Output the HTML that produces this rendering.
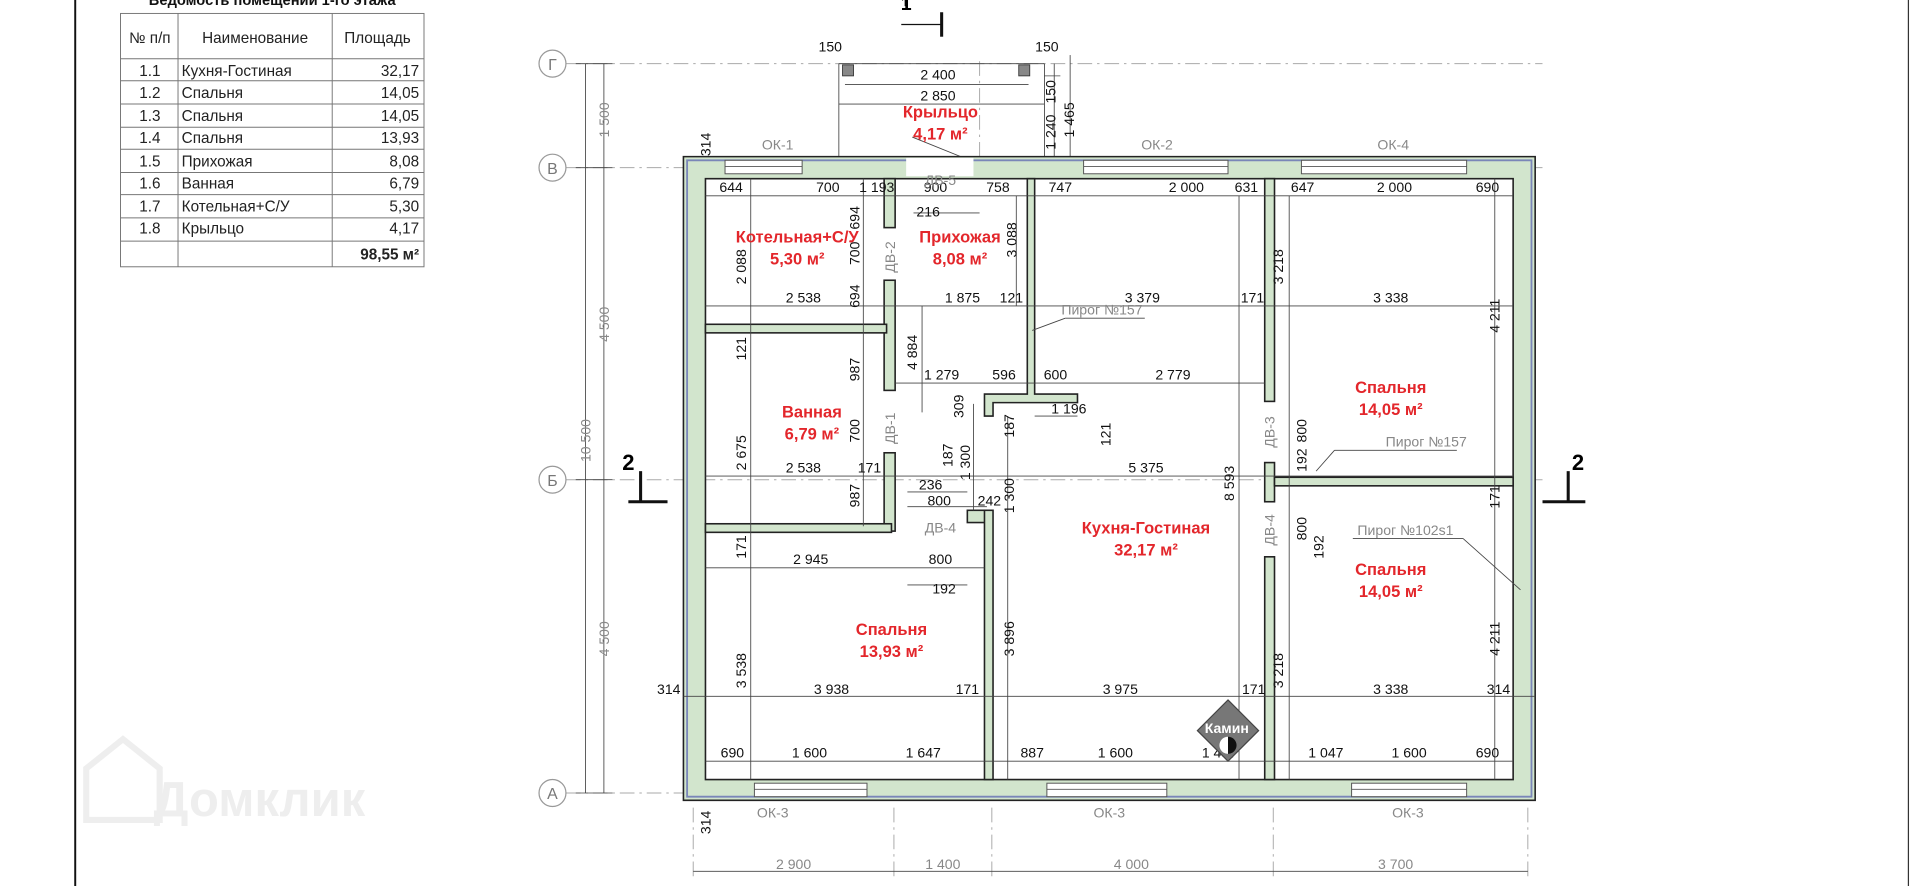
<!DOCTYPE html>
<html><head><meta charset="utf-8"><style>
html,body{margin:0;padding:0;background:#fff;width:1920px;height:886px;overflow:hidden}
svg{display:block}
text{font-family:"Liberation Sans","DejaVu Sans",sans-serif}
.d{font-size:11.5px;fill:#111;text-anchor:middle}
.g{font-size:11.5px;fill:#888;text-anchor:middle}
.r{font-size:13.5px;fill:#e3262b;font-weight:bold;text-anchor:middle}
.t{font-size:12.5px;fill:#222}
.w{fill:#d2e5cd;stroke:#222;stroke-width:1.3}
.dl{stroke:#444;stroke-width:0.7;fill:none}
.ax{stroke:#aaa;stroke-width:0.8;stroke-dasharray:12 4 2 4;fill:none}
.win{fill:#fff;stroke:#555;stroke-width:0.8}
</style></head><body>
<svg width="1920" height="886" viewBox="0 0 1568 724" xmlns="http://www.w3.org/2000/svg">
<rect width="1568" height="724" fill="#fff"/>
<line x1="61" y1="0" x2="61" y2="724" stroke="#111" stroke-width="1.6"/>
<line x1="1559" y1="0" x2="1559" y2="724" stroke="#333" stroke-width="1"/>
<g fill="none" stroke="#eee" stroke-width="5">
<path d="M70 670 V628 L100 604 L130 628 V670 Z"/>
</g>
<text x="125" y="667" font-size="40" fill="#eeeeee" font-weight="bold">Домклик</text>
<text x="222" y="4" font-size="12" font-weight="bold" text-anchor="middle" fill="#111">Ведомость помещений 1-го этажа</text>
<g stroke="#777" stroke-width="0.8" fill="none">
<rect x="98" y="11" width="248" height="207"/>
<line x1="145" y1="11" x2="145" y2="218"/><line x1="271" y1="11" x2="271" y2="218"/>
<line x1="98" y1="48" x2="346" y2="48"/>
<line x1="98" y1="66" x2="346" y2="66"/><line x1="98" y1="85" x2="346" y2="85"/>
<line x1="98" y1="104" x2="346" y2="104"/><line x1="98" y1="122" x2="346" y2="122"/>
<line x1="98" y1="141" x2="346" y2="141"/><line x1="98" y1="159" x2="346" y2="159"/>
<line x1="98" y1="178" x2="346" y2="178"/><line x1="98" y1="197" x2="346" y2="197"/>
</g>
<g class="t">
<text x="122" y="35" text-anchor="middle">№ п/п</text><text x="208" y="35" text-anchor="middle">Наименование</text><text x="308" y="35" text-anchor="middle">Площадь</text>
<text x="122" y="62" text-anchor="middle">1.1</text><text x="148" y="62">Кухня-Гостиная</text><text x="342" y="62" text-anchor="end">32,17</text>
<text x="122" y="80" text-anchor="middle">1.2</text><text x="148" y="80">Спальня</text><text x="342" y="80" text-anchor="end">14,05</text>
<text x="122" y="99" text-anchor="middle">1.3</text><text x="148" y="99">Спальня</text><text x="342" y="99" text-anchor="end">14,05</text>
<text x="122" y="117" text-anchor="middle">1.4</text><text x="148" y="117">Спальня</text><text x="342" y="117" text-anchor="end">13,93</text>
<text x="122" y="136" text-anchor="middle">1.5</text><text x="148" y="136">Прихожая</text><text x="342" y="136" text-anchor="end">8,08</text>
<text x="122" y="154" text-anchor="middle">1.6</text><text x="148" y="154">Ванная</text><text x="342" y="154" text-anchor="end">6,79</text>
<text x="122" y="173" text-anchor="middle">1.7</text><text x="148" y="173">Котельная+С/У</text><text x="342" y="173" text-anchor="end">5,30</text>
<text x="122" y="191" text-anchor="middle">1.8</text><text x="148" y="191">Крыльцо</text><text x="342" y="191" text-anchor="end">4,17</text>
<text x="342" y="212" text-anchor="end" font-weight="bold">98,55 м²</text>
</g>
<g class="ax">
<line x1="462" y1="52" x2="1260" y2="52"/><line x1="462" y1="137" x2="1260" y2="137"/>
<line x1="462" y1="392" x2="1260" y2="392"/><line x1="462" y1="648" x2="560" y2="648"/>
<line x1="566" y1="660" x2="566" y2="720"/><line x1="730" y1="660" x2="730" y2="720"/>
<line x1="810" y1="660" x2="810" y2="720"/><line x1="1040" y1="660" x2="1040" y2="720"/>
<line x1="1248" y1="660" x2="1248" y2="720"/><line x1="800" y1="50" x2="800" y2="130"/>
</g>
<g fill="#fff" stroke="#999" stroke-width="1">
<circle cx="451" cy="52" r="11"/><circle cx="451" cy="137" r="11"/><circle cx="451" cy="392" r="11"/><circle cx="451" cy="648" r="11"/>
</g>
<g font-size="13" fill="#777" text-anchor="middle"><text x="451" y="57">Г</text><text x="451" y="142">В</text><text x="451" y="397">Б</text><text x="451" y="653">А</text></g>
<g class="dl"><line x1="478" y1="52" x2="478" y2="648"/><line x1="493" y1="52" x2="493" y2="648"/>
<line x1="470" y1="52" x2="500" y2="52"/><line x1="470" y1="137" x2="500" y2="137"/><line x1="470" y1="392" x2="500" y2="392"/><line x1="470" y1="648" x2="500" y2="648"/></g>
<g class="g"><text transform="translate(497,98) rotate(-90)">1 500</text><text transform="translate(497,265) rotate(-90)">4 500</text><text transform="translate(482,360) rotate(-90)">10 500</text><text transform="translate(497,522) rotate(-90)">4 500</text></g>
<line class="dl" x1="566" y1="712" x2="1248" y2="712"/>
<g class="g"><text x="648" y="710">2 900</text><text x="770" y="710">1 400</text><text x="924" y="710">4 000</text><text x="1140" y="710">3 700</text></g>
<g stroke="#111" stroke-width="2.5" fill="none">
<line x1="769" y1="10" x2="769" y2="30"/><line x1="740" y1="0" x2="740" y2="5"/>
<line x1="523" y1="385" x2="523" y2="410"/><line x1="513" y1="410" x2="545" y2="410"/>
<line x1="1281" y1="385" x2="1281" y2="410"/><line x1="1260" y1="410" x2="1295" y2="410"/>
</g>
<line x1="736" y1="20" x2="769" y2="20" stroke="#111" stroke-width="1"/>
<text x="740" y="8" font-size="16" font-weight="bold" text-anchor="middle">1</text>
<text x="513" y="384" font-size="18" font-weight="bold" text-anchor="middle">2</text>
<text x="1289" y="384" font-size="18" font-weight="bold" text-anchor="middle">2</text>
<g class="dl"><line x1="685" y1="52" x2="685" y2="130"/><line x1="853" y1="52" x2="853" y2="130"/>
<line x1="685" y1="52" x2="853" y2="52"/><line x1="690" y1="69" x2="840" y2="69"/><line x1="685" y1="85" x2="853" y2="85"/>
<line x1="861" y1="52" x2="861" y2="130"/><line x1="874" y1="45" x2="874" y2="130"/><line x1="853" y1="62" x2="866" y2="62"/>
<line x1="797" y1="133" x2="745" y2="112"/></g>
<g fill="#888" stroke="#333" stroke-width="0.7"><rect x="688" y="53" width="9" height="9"/><rect x="832" y="53" width="9" height="9"/></g>
<g class="d"><text x="678" y="42">150</text><text x="766" y="65">2 400</text><text x="855" y="42">150</text><text x="766" y="82">2 850</text>
<text transform="translate(862,75) rotate(-90)">150</text><text transform="translate(862,108) rotate(-90)">1 240</text><text transform="translate(877,98) rotate(-90)">1 465</text>
<text transform="translate(580,118) rotate(-90)">314</text><text transform="translate(580,672) rotate(-90)">314</text></g>
<text class="r" x="768" y="96">Крыльцо</text><text class="r" x="768" y="114">4,17 м²</text>
<path d="M558 128 H1254 V654 H558 Z M576 146 V637 H1236 V146 Z" fill="#d2e5cd" fill-rule="evenodd" stroke="#222" stroke-width="1.3"/>
<path d="M561 131 H1251 V651 H561 Z" fill="none" stroke="#7a86b8" stroke-width="1.5"/>
<g class="win">
<rect x="592" y="131" width="63" height="11"/><rect x="740" y="129" width="55" height="15" stroke="none"/>
<rect x="885" y="131" width="118" height="11"/><rect x="1063" y="131" width="135" height="11"/>
<rect x="616" y="640" width="92" height="11"/><rect x="855" y="640" width="98" height="11"/><rect x="1104" y="640" width="94" height="11"/>
</g>
<g stroke="#555" stroke-width="0.7"><line x1="592" y1="136" x2="655" y2="136"/><line x1="885" y1="136" x2="1003" y2="136"/><line x1="1063" y1="136" x2="1198" y2="136"/>
<line x1="616" y1="645" x2="708" y2="645"/><line x1="855" y1="645" x2="953" y2="645"/><line x1="1104" y1="645" x2="1198" y2="645"/></g>
<g class="w">
<rect x="722" y="146" width="9" height="40"/>
<rect x="722" y="229" width="9" height="90"/>
<rect x="722" y="370" width="9" height="64"/>
<rect x="576" y="265" width="148" height="7"/>
<rect x="576" y="428" width="152" height="7"/>
<rect x="790" y="417" width="18" height="10"/>
<rect x="804" y="417" width="7" height="220"/>
<path d="M839 146 H845 V322 H880 V329 H811 V340 H804 V322 H839 Z"/>
<rect x="1033" y="146" width="8" height="182"/>
<rect x="1033" y="378" width="8" height="32"/>
<rect x="1041" y="390" width="195" height="7"/>
<rect x="1033" y="455" width="8" height="182"/>
</g>
<g class="dl">
<line x1="576" y1="160" x2="1236" y2="160"/><line x1="576" y1="250" x2="1236" y2="250"/>
<line x1="731" y1="313" x2="1033" y2="313"/><line x1="576" y1="389" x2="1236" y2="389"/>
<line x1="576" y1="464" x2="804" y2="464"/><line x1="558" y1="569" x2="1254" y2="569"/>
<line x1="576" y1="622" x2="1236" y2="622"/><line x1="845" y1="340" x2="880" y2="340"/>
<line x1="613" y1="146" x2="613" y2="637"/><line x1="705" y1="146" x2="705" y2="430"/>
<line x1="753" y1="250" x2="753" y2="337"/><line x1="830" y1="160" x2="830" y2="250"/>
<line x1="1012" y1="160" x2="1012" y2="637"/><line x1="1053" y1="160" x2="1053" y2="637"/>
<line x1="1221" y1="146" x2="1221" y2="637"/><line x1="823" y1="340" x2="823" y2="637"/>
<line x1="795" y1="330" x2="795" y2="417"/><line x1="741" y1="402" x2="790" y2="402"/><line x1="741" y1="414" x2="806" y2="414"/>
<line x1="741" y1="478" x2="790" y2="478"/>
<line x1="746" y1="174" x2="800" y2="174"/>
<line x1="843" y1="270" x2="870" y2="260"/><line x1="870" y1="260" x2="935" y2="260"/>
<line x1="1090" y1="368" x2="1190" y2="368"/><line x1="1090" y1="368" x2="1075" y2="385"/>
<line x1="1105" y1="440" x2="1195" y2="440"/><line x1="1195" y1="440" x2="1242" y2="482"/>
</g>
<g class="d">
<text x="597" y="157">644</text><text x="676" y="157">700</text><text x="716" y="157">1 193</text><text x="764" y="157">900</text><text x="815" y="157">758</text><text x="866" y="157">747</text><text x="969" y="157">2 000</text><text x="1018" y="157">631</text><text x="1064" y="157">647</text><text x="1139" y="157">2 000</text><text x="1215" y="157">690</text>
<text x="758" y="177">216</text>
<text x="656" y="247">2 538</text><text x="786" y="247">1 875</text><text x="826" y="247">121</text><text x="933" y="247">3 379</text><text x="1023" y="247">171</text><text x="1136" y="247">3 338</text>
<text x="769" y="310">1 279</text><text x="820" y="310">596</text><text x="862" y="310">600</text><text x="958" y="310">2 779</text>
<text x="873" y="338">1 196</text>
<text x="656" y="386">2 538</text><text x="710" y="386">171</text><text x="936" y="386">5 375</text>
<text x="760" y="400">236</text><text x="767" y="413">800</text><text x="808" y="413">242</text>
<text x="662" y="461">2 945</text><text x="768" y="461">800</text><text x="771" y="485">192</text>
<text x="546" y="567">314</text><text x="679" y="567">3 938</text><text x="790" y="567">171</text><text x="915" y="567">3 975</text><text x="1024" y="567">171</text><text x="1136" y="567">3 338</text><text x="1224" y="567">314</text>
<text x="598" y="619">690</text><text x="661" y="619">1 600</text><text x="754" y="619">1 647</text><text x="843" y="619">887</text><text x="911" y="619">1 600</text><text x="996" y="619">1 487</text><text x="1083" y="619">1 047</text><text x="1151" y="619">1 600</text><text x="1215" y="619">690</text>
<text transform="translate(609,218) rotate(-90)">2 088</text><text transform="translate(609,285) rotate(-90)">121</text><text transform="translate(609,370) rotate(-90)">2 675</text><text transform="translate(609,447) rotate(-90)">171</text><text transform="translate(609,548) rotate(-90)">3 538</text>
<text transform="translate(702,178) rotate(-90)">694</text><text transform="translate(702,207) rotate(-90)">700</text><text transform="translate(702,242) rotate(-90)">694</text><text transform="translate(702,302) rotate(-90)">987</text><text transform="translate(702,352) rotate(-90)">700</text><text transform="translate(702,405) rotate(-90)">987</text>
<text transform="translate(749,288) rotate(-90)">4 884</text>
<text transform="translate(787,332) rotate(-90)">309</text><text transform="translate(778,372) rotate(-90)">187</text><text transform="translate(792,378) rotate(-90)">1 300</text>
<text transform="translate(828,348) rotate(-90)">187</text><text transform="translate(828,405) rotate(-90)">1 300</text><text transform="translate(828,522) rotate(-90)">3 896</text>
<text transform="translate(830,196) rotate(-90)">3 088</text><text transform="translate(907,355) rotate(-90)">121</text>
<text transform="translate(1008,395) rotate(-90)">8 593</text>
<text transform="translate(1048,218) rotate(-90)">3 218</text><text transform="translate(1048,548) rotate(-90)">3 218</text>
<text transform="translate(1067,352) rotate(-90)">800</text><text transform="translate(1067,376) rotate(-90)">192</text>
<text transform="translate(1067,432) rotate(-90)">800</text><text transform="translate(1081,447) rotate(-90)">192</text>
<text transform="translate(1225,258) rotate(-90)">4 211</text><text transform="translate(1225,406) rotate(-90)">171</text><text transform="translate(1225,522) rotate(-90)">4 211</text>
</g>
<g class="g">
<text x="635" y="122">ОК-1</text><text x="945" y="122">ОК-2</text><text x="1138" y="122">ОК-4</text>
<text x="768" y="151">ДВ-5</text><text x="768" y="435">ДВ-4</text>
<text x="631" y="668">ОК-3</text><text x="906" y="668">ОК-3</text><text x="1150" y="668">ОК-3</text>
<text transform="translate(731,210) rotate(-90)">ДВ-2</text><text transform="translate(731,350) rotate(-90)">ДВ-1</text>
<text transform="translate(1041,353) rotate(-90)">ДВ-3</text><text transform="translate(1041,433) rotate(-90)">ДВ-4</text>
<text x="900" y="257">Пирог №157</text><text x="1165" y="365">Пирог №157</text><text x="1148" y="437">Пирог №102s1</text>
</g>
<text class="r" x="651" y="198">Котельная+С/У</text><text class="r" x="651" y="216">5,30 м²</text>
<text class="r" x="784" y="198">Прихожая</text><text class="r" x="784" y="216">8,08 м²</text>
<text class="r" x="663" y="341">Ванная</text><text class="r" x="663" y="359">6,79 м²</text>
<text class="r" x="936" y="436">Кухня-Гостиная</text><text class="r" x="936" y="454">32,17 м²</text>
<text class="r" x="1136" y="321">Спальня</text><text class="r" x="1136" y="339">14,05 м²</text>
<text class="r" x="1136" y="470">Спальня</text><text class="r" x="1136" y="488">14,05 м²</text>
<text class="r" x="728" y="519">Спальня</text><text class="r" x="728" y="537">13,93 м²</text>
<path d="M1003 572 L1028 597 L1003 622 L978 597 Z" fill="#777" stroke="#444" stroke-width="1"/>
<path d="M1003 602 A7 7 0 0 0 1003 616 Z" fill="#fff"/>
<path d="M1003 602 A7 7 0 0 1 1003 616 Z" fill="#111"/>
<text x="1002" y="599" font-size="11.5" font-weight="bold" text-anchor="middle" fill="#fff">Камин</text>
</svg>
</body></html>
